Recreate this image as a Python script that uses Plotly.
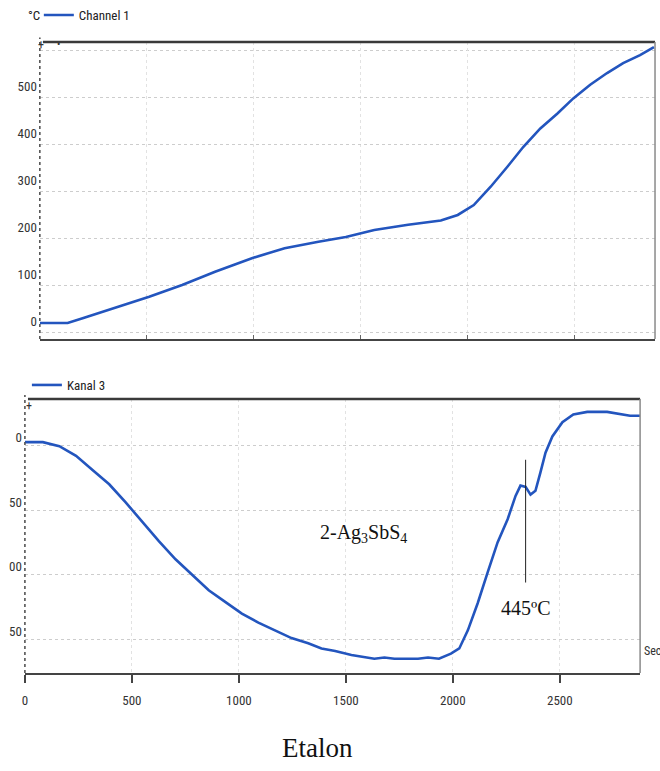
import plotly.graph_objects as go

# ---------------- data ----------------
# Channel 1 (temperature, °C) vs time (s)
ch1_time = [0, 65, 130, 200, 353, 511, 665, 819, 991, 1144, 1302, 1430, 1563, 1721, 1874,
            1953, 2028, 2107, 2186, 2260, 2339, 2419, 2493, 2572, 2651, 2726, 2805, 2870]
ch1_temp = [21, 21, 21, 31, 53, 77, 102, 130, 159, 180, 194, 204, 219, 230, 239,
            251, 272, 311, 354, 396, 435, 467, 499, 528, 553, 574, 591, 608]

# Kanal 3 (DTA signal) vs time (s)
k3_time = [0, 84, 161, 239, 316, 394, 471, 549, 626, 704, 781, 859, 936, 1014, 1091, 1169,
           1246, 1324, 1386, 1450, 1526, 1633, 1680, 1727, 1837, 1884, 1935, 1991, 2030,
           2070, 2116, 2163, 2209, 2256, 2293, 2316, 2340, 2363, 2386, 2409, 2433, 2465,
           2512, 2563, 2628, 2721, 2781, 2828, 2875]
k3_val = [2.6, 2.6, -0.5, -8, -19, -30, -44, -59, -74, -88, -100, -112, -121, -130, -137, -143,
          -149, -153, -157, -159, -162, -165, -164, -165, -165, -164, -165, -161, -157,
          -143, -122, -98, -75, -57, -39, -31, -32, -38, -35, -21, -5.5, 7,
          18, 24, 26, 26, 24, 23, 23]

top_ticks = [0, 100, 200, 300, 400, 500]
top_ticktext = ["0", "100", "200", "300", "400", "500"]
top_extra_grid = [600]
bot_ticks = [0, -50, -100, -150]
bot_ticktext = ["0", "50", "00", "50"]
x_ticks = [0, 500, 1000, 1500, 2000, 2500]
x_ticktext = ["0", "500", "1000", "1500", "2000", "2500"]

peak_time = 2340
peak_line = [-11, -106]
peak_label = "445ºC"
peak_label_pos = (2340, -126)
sample_label = "2-Ag<sub>3</sub>SbS<sub>4</sub>"
sample_label_pos = (1581, -68)

# ---------------- styling ----------------
W, H = 660, 771
BLUE = "rgb(35,85,190)"
NARROW = "Liberation Sans Narrow, Roboto Condensed, Arial Narrow, Roboto, sans-serif"
SERIF = "Liberation Serif, Times New Roman, serif"
GRID = "#cdcdcd"


def px(x):
    return x / W


def py(y):
    return 1 - y / H


fig = go.Figure()
fig.add_trace(go.Scatter(x=ch1_time, y=ch1_temp, mode="lines", name="Channel 1",
                         line=dict(color=BLUE, width=2.6), xaxis="x", yaxis="y",
                         legend="legend"))
fig.add_trace(go.Scatter(x=k3_time, y=k3_val, mode="lines", name="Kanal 3",
                         line=dict(color=BLUE, width=2.6), xaxis="x2", yaxis="y2",
                         legend="legend2"))

xcommon = dict(range=[0, 2875], tickvals=x_ticks, showgrid=True, gridcolor="#e2e2e2",
               griddash="dot", gridwidth=1, zeroline=False, showline=True,
               linecolor="#444", linewidth=2)

fig.update_layout(
    width=W, height=H, margin=dict(l=0, r=0, t=0, b=0),
    paper_bgcolor="white", plot_bgcolor="white",
    xaxis=dict(domain=[px(37), px(655)], anchor="y", showticklabels=False,
               ticks="inside", ticklen=4, tickcolor="#666", **xcommon),
    yaxis=dict(domain=[py(339), py(42)], anchor="x", range=[-13, 619],
               tickvals=top_ticks, ticktext=top_ticktext, showgrid=True, gridcolor=GRID,
               griddash="dot", zeroline=False, showline=False, ticks="",
               minor=dict(tickvals=top_extra_grid, showgrid=True, gridcolor=GRID,
                          griddash="dot", ticks=""),
               ticklabelshift=-11, ticklabelstandoff=2,
               tickfont=dict(family=NARROW, size=13, color="#333")),
    xaxis2=dict(domain=[px(22), px(640)], anchor="y2", ticktext=x_ticktext,
                ticks="outside", ticklen=8, tickcolor="#444", tickwidth=1.5,
                ticklabelstandoff=6,
                tickfont=dict(family=NARROW, size=13, color="#333"), **xcommon),
    yaxis2=dict(domain=[py(673), py(399)], anchor="x2", range=[-176, 36],
                tickvals=bot_ticks, ticktext=bot_ticktext, showgrid=True, gridcolor=GRID,
                griddash="dot", zeroline=False, showline=False, ticks="",
                ticklabelshift=-8, ticklabelstandoff=2,
                tickfont=dict(family=NARROW, size=13, color="#333")),
    legend=dict(x=px(36), y=py(15), xanchor="left", yanchor="middle",
                bgcolor="rgba(0,0,0,0)", font=dict(family=NARROW, size=13, color="#222"),
                itemwidth=30, tracegroupgap=0),
    legend2=dict(x=px(24), y=py(385), xanchor="left", yanchor="middle",
                 bgcolor="rgba(0,0,0,0)", font=dict(family=NARROW, size=13, color="#222"),
                 itemwidth=30, tracegroupgap=0),
    showlegend=True,
)

# frame lines (dashed left axes, heavy top borders, thin right borders)
for xa, ya in (("x", "y"), ("x2", "y2")):
    fig.add_shape(type="line", xref=f"{xa} domain", yref=f"{ya} domain",
                  x0=0, x1=0, y0=0, y1=1.015, line=dict(color="#555", width=1.6, dash="3px,3px"))
    fig.add_shape(type="line", xref=f"{xa} domain", yref=f"{ya} domain",
                  x0=0.005, x1=1, y0=1, y1=1, line=dict(color="#3a3a3a", width=2.5))
    fig.add_shape(type="line", xref=f"{xa} domain", yref=f"{ya} domain",
                  x0=1, x1=1, y0=0, y1=1, line=dict(color="#8a8a8a", width=1.5))

# peak marker line
fig.add_shape(type="line", xref="x2", yref="y2", x0=peak_time, x1=peak_time,
              y0=peak_line[0], y1=peak_line[1], line=dict(color="#222", width=1))


def note(text, x, y, font, xanchor="center", xref="paper", yref="paper"):
    return dict(text=text, x=x, y=y, xref=xref, yref=yref, showarrow=False,
                xanchor=xanchor, yanchor="middle", font=font)


annotations = [
    note("°C", px(31), py(15), dict(family=NARROW, size=13, color="#222")),
    note("+", px(38), py(45), dict(family=NARROW, size=12, color="#333")),
    note("•", px(56), py(44), dict(family=NARROW, size=10, color="#333")),
    note("+", px(26), py(406), dict(family=NARROW, size=12, color="#333")),
    note("Sec", px(642), py(651), dict(family=NARROW, size=12, color="#333"), xanchor="left"),
    note(sample_label, sample_label_pos[0], sample_label_pos[1],
         dict(family=SERIF, size=20, color="#111"), xref="x2", yref="y2"),
    note(peak_label, peak_label_pos[0], peak_label_pos[1],
         dict(family=SERIF, size=20, color="#111"), xref="x2", yref="y2"),
    note("Etalon", px(316), py(748), dict(family=SERIF, size=27, color="#111")),
]
fig.update_layout(annotations=annotations)

fig.write_html("out.html")
